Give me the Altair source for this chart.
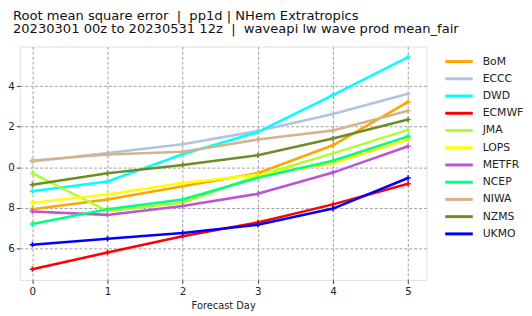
import altair as alt
import pandas as pd

days = [0, 1, 2, 3, 4, 5]
models = ["BoM", "ECCC", "DWD", "ECMWF", "JMA", "LOPS", "METFR", "NCEP", "NIWA", "NZMS", "UKMO"]
colors = ["#FFA500", "#B0C4DE", "#00FFFF", "#FF0000", "#ADFF2F", "#FFFF00",
          "#BA55D3", "#00FF7F", "#D2B48C", "#6B8E23", "#0000FF"]

bom = [0.792, 0.840, 0.905, 0.970, 1.108, 1.322]
eccc = [1.028, 1.070, 1.113, 1.178, 1.262, 1.363]
dwd = [0.881, 0.929, 1.064, 1.173, 1.356, 1.543]
ecmwf = [0.496, 0.578, 0.659, 0.727, 0.816, 0.918]
jma = [0.970, 0.783, 0.824, 0.957, 1.068, 1.184]
lops = [0.824, 0.865, 0.922, 0.962, 1.019, 1.136]
metfr = [0.781, 0.764, 0.808, 0.868, 0.973, 1.103]
ncep = [0.719, 0.792, 0.840, 0.947, 1.032, 1.152]
niwa = [1.033, 1.062, 1.076, 1.136, 1.181, 1.278]
nzms = [0.913, 0.970, 1.011, 1.059, 1.141, 1.235]
ukmo = [0.617, 0.646, 0.675, 0.715, 0.795, 0.946]

series = [bom, eccc, dwd, ecmwf, jma, lops, metfr, ncep, niwa, nzms, ukmo]
y_ticks = [0.6, 0.8, 1.0, 1.2, 1.4]
NB = "\u00a0"
title_lines = ["Root mean square error" + NB * 2 + "|" + NB * 2 + "pp1d | NHem Extratropics",
               "20230301 00z to 20230531 12z" + NB * 2 + "|" + NB * 2 + "waveapi lw wave prod mean_fair"]

rows = []
for m, vals in zip(models, series):
    for d, v in zip(days, vals):
        rows.append({"model": m, "day": d, "rmse": v})
df = pd.DataFrame(rows)

FONT = "DejaVu Sans"

x = alt.X("day:Q", title="Forecast Day",
          scale=alt.Scale(domain=[-0.166, 5.245], nice=False, zero=False),
          axis=alt.Axis(values=days, format="d", grid=True, gridDash=[3, 2],
                        gridColor="#a0a0a0", gridWidth=1, tickSize=3.5,
                        tickColor="#333", domain=False, labelFontSize=10.5,
                        labelFont=FONT, labelColor="#222", labelPadding=3,
                        titleFont=FONT, titleFontSize=10, titleFontWeight="normal",
                        titleColor="#222", titlePadding=4))
# the reference shows only the last digit of each y tick label (cut at the left edge)
y = alt.Y("rmse:Q", title=None,
          scale=alt.Scale(domain=[0.443, 1.596], nice=False, zero=False),
          axis=alt.Axis(values=y_ticks, format=".1f", grid=True, gridDash=[3, 2],
                        gridColor="#a0a0a0", gridWidth=1, tickSize=3.5,
                        labelExpr="substring(datum.label, length(datum.label) - 1)",
                        tickColor="#333", domain=False, labelFontSize=10.5,
                        labelFont=FONT, labelColor="#222", labelPadding=2))
color = alt.Color("model:N", sort=models,
                  scale=alt.Scale(domain=models, range=colors),
                  legend=alt.Legend(title=None, orient="none", legendX=430.5, legendY=6.8,
                                    symbolType="M-1,0H3", symbolSize=196,
                                    symbolStrokeWidth=3, symbolFillColor="transparent",
                                    labelFont=FONT, labelFontSize=11, labelColor="#222",
                                    labelOffset=22.5, rowPadding=2.5, padding=0,
                                    symbolOffset=0))

lines = alt.Chart(df).mark_line(strokeWidth=2.6).encode(x=x, y=y, color=color)
points = alt.Chart(df).mark_point(shape="M-1,0H1M0,-1V1", filled=False, size=30,
                                  strokeWidth=1.5, opacity=1).encode(
    x=x, y=y, color=alt.Color("model:N", sort=models,
                              scale=alt.Scale(domain=models, range=colors), legend=None))

chart = alt.layer(lines, points).properties(
    width=413, height=237,
    autosize=alt.AutoSizeParams(type="none"),
    padding={"left": 12, "top": 36.7, "right": 99, "bottom": 34.3},
    title=alt.TitleParams(text=title_lines, anchor="start", frame="group",
                          font=FONT, fontSize=13.3, fontWeight="normal", color="#111",
                          lineHeight=14, dx=-7, offset=11),
).configure_view(stroke="#666", strokeWidth=1).configure(background="white")

chart.save("out.html", embed_options={"renderer": "svg", "actions": False})
